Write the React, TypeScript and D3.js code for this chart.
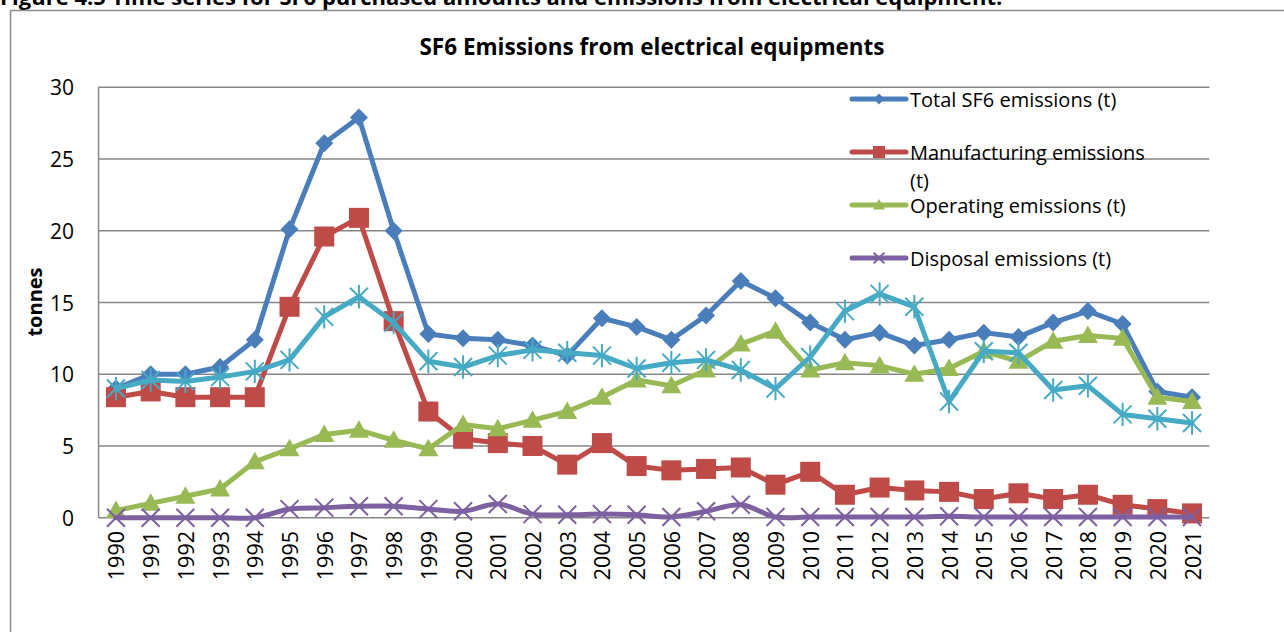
import * as d3 from "d3"

const years = [
  "1990", "1991", "1992", "1993", "1994", "1995", "1996", "1997", "1998", "1999",
  "2000", "2001", "2002", "2003", "2004", "2005", "2006", "2007", "2008", "2009",
  "2010", "2011", "2012", "2013", "2014", "2015", "2016", "2017", "2018", "2019",
  "2020", "2021",
]

const totalEmissions = [
  9.0, 10.0, 10.0, 10.5, 12.4, 20.1, 26.1, 27.9, 20.0, 12.8,
  12.5, 12.4, 12.0, 11.3, 13.9, 13.3, 12.4, 14.1, 16.5, 15.3,
  13.6, 12.4, 12.9, 12.0, 12.4, 12.9, 12.6, 13.6, 14.4, 13.5,
  8.8, 8.4,
]

const manufacturingEmissions = [
  8.4, 8.8, 8.4, 8.4, 8.4, 14.7, 19.6, 20.9, 13.7, 7.4,
  5.5, 5.2, 5.0, 3.7, 5.2, 3.6, 3.3, 3.4, 3.5, 2.3,
  3.2, 1.6, 2.1, 1.9, 1.8, 1.3, 1.7, 1.3, 1.6, 0.9,
  0.6, 0.3,
]

const operatingEmissions = [
  0.5, 1.0, 1.5, 2.0, 3.9, 4.8, 5.8, 6.1, 5.4, 4.8,
  6.5, 6.2, 6.8, 7.4, 8.4, 9.6, 9.2, 10.3, 12.1, 13.0,
  10.3, 10.8, 10.6, 10.0, 10.4, 11.6, 10.9, 12.3, 12.7, 12.5,
  8.4, 8.1,
]

const disposalEmissions = [
  0.0, 0.0, 0.0, 0.0, 0.0, 0.6, 0.7, 0.8, 0.8, 0.6,
  0.45, 0.95, 0.25, 0.2, 0.25, 0.2, 0.05, 0.45, 0.9, 0.05,
  0.05, 0.05, 0.05, 0.05, 0.1, 0.05, 0.05, 0.05, 0.05, 0.05,
  0.05, 0.05,
]

// unlabelled fifth series (not in the legend)
const otherSeries = [
  9.0, 9.6, 9.5, 9.8, 10.2, 11.0, 14.0, 15.4, 13.6, 10.9,
  10.5, 11.3, 11.7, 11.5, 11.3, 10.4, 10.8, 11.0, 10.3, 9.0,
  11.2, 14.4, 15.6, 14.7, 8.1, 11.6, 11.5, 8.9, 9.2, 7.2,
  6.9, 6.6,
]

const yTicks = [0, 5, 10, 15, 20, 25, 30]

type Marker = "diamond" | "square" | "triangle" | "cross" | "asterisk"

const series = [
  { name: "Total SF6 emissions (t)", values: totalEmissions, color: "#4a7ebb", marker: "diamond" as Marker, smooth: false },
  { name: "Manufacturing emissions (t)", values: manufacturingEmissions, color: "#be4b48", marker: "square" as Marker, smooth: false },
  { name: "Operating emissions (t)", values: operatingEmissions, color: "#98b954", marker: "triangle" as Marker, smooth: false },
  { name: "Disposal emissions (t)", values: disposalEmissions, color: "#7d60a0", marker: "cross" as Marker, smooth: true },
  { name: "", values: otherSeries, color: "#46aac5", marker: "asterisk" as Marker, smooth: false },
]

const FONT = "'Open Sans', 'Noto Sans', sans-serif"

const MarkerShape = ({ type, cx, cy, color, s }: { type: Marker; cx: number; cy: number; color: string; s: number }) => {
  if (type === "diamond") {
    const r = 9 * s
    return <path d={`M${cx},${cy - r}L${cx + r},${cy}L${cx},${cy + r}L${cx - r},${cy}Z`} fill={color} />
  }
  if (type === "square") {
    const r = 10 * s
    return <rect x={cx - r} y={cy - r} width={2 * r} height={2 * r} fill={color} />
  }
  if (type === "triangle") {
    const r = 10 * s
    return <path d={`M${cx},${cy - r}L${cx + r},${cy + r * 0.75}L${cx - r},${cy + r * 0.75}Z`} fill={color} />
  }
  if (type === "cross") {
    const r = 9 * s
    return (
      <path d={`M${cx - r},${cy - r}L${cx + r},${cy + r}M${cx - r},${cy + r}L${cx + r},${cy - r}`}
        stroke={color} strokeWidth={2} fill="none" />
    )
  }
  const r = 9 * s
  return (
    <path d={`M${cx - r},${cy - r}L${cx + r},${cy + r}M${cx - r},${cy + r}L${cx + r},${cy - r}M${cx},${cy - r * 1.3}L${cx},${cy + r * 1.3}`}
      stroke={color} strokeWidth={2} fill="none" />
  )
}

export default function App() {
  const width = 1284
  const height = 632

  const x = d3.scaleBand().domain(years).range([98.6, 1209.4])
  const y = d3.scaleLinear().domain([0, 30]).range([517.7, 87.3])
  const xc = (d: string) => (x(d) ?? 0) + x.bandwidth() / 2

  const straight = d3.line<number>().x((_, i) => xc(years[i])).y((v) => y(v))
  const smooth = d3.line<number>().x((_, i) => xc(years[i])).y((v) => y(v)).curve(d3.curveCatmullRom.alpha(0.5))

  const legendRows = [
    { s: series[0], y: 99, extra: null as string | null },
    { s: series[1], y: 152, extra: "(t)" },
    { s: series[2], y: 205, extra: null },
    { s: series[3], y: 258, extra: null },
  ]

  return (
    <svg width={width} height={height} style={{ position: "absolute", left: 0, top: 0, background: "#fff" }}>
      <text x={0} y={5} fontFamily={FONT} fontWeight="bold" fontSize={22} fill="#000">
        Figure 4.5 Time series for SF6 purchased amounts and emissions from electrical equipment.
      </text>
      <rect x={10.5} y={10.5} width={1400} height={700} fill="#fff" stroke="#8c8c8c" strokeWidth={1.5} />

      <text x={652} y={55} textAnchor="middle" fontFamily={FONT} fontWeight="bold" fontSize={22.5} fill="#000">
        SF6 Emissions from electrical equipments
      </text>

      {/* grid */}
      {yTicks.map((t) => (
        <line key={t} x1={98.6} x2={1209.4} y1={y(t)} y2={y(t)} stroke="#868686" strokeWidth={1.5} />
      ))}
      <line x1={98.6} x2={98.6} y1={y(30)} y2={y(0)} stroke="#868686" strokeWidth={1.5} />

      {yTicks.map((t) => (
        <text key={t} x={74} y={y(t)} textAnchor="end" dominantBaseline="central"
          fontFamily={FONT} fontSize={21} fill="#000">{t}</text>
      ))}

      <text transform="translate(34,302) rotate(-90)" textAnchor="middle" dominantBaseline="central"
        fontFamily={FONT} fontWeight="bold" fontSize={20} fill="#000">tonnes</text>

      {years.map((yr) => (
        <text key={yr} transform={`translate(${xc(yr)},531) rotate(-90)`} textAnchor="end" dominantBaseline="central"
          fontFamily={FONT} fontSize={21.5} fill="#000">{yr}</text>
      ))}

      {series.map((s, si) => (
        <g key={si}>
          <path d={(s.smooth ? smooth : straight)(s.values) ?? ""} fill="none" stroke={s.color} strokeWidth={5}
            strokeLinejoin="round" strokeLinecap="round" />
          {s.values.map((v, i) => (
            <MarkerShape key={i} type={s.marker} cx={xc(years[i])} cy={y(v)} color={s.color} s={1} />
          ))}
        </g>
      ))}

      {legendRows.map((r, i) => (
        <g key={i}>
          <line x1={852} x2={906} y1={r.y} y2={r.y} stroke={r.s.color} strokeWidth={5} strokeLinecap="round" />
          <MarkerShape type={r.s.marker} cx={879} cy={r.y} color={r.s.color} s={0.6} />
          <text x={910} y={r.y} dominantBaseline="central" fontFamily={FONT} fontSize={20} fill="#000">
            {r.extra ? "Manufacturing emissions" : r.s.name}
          </text>
          {r.extra && (
            <text x={910} y={r.y + 28} dominantBaseline="central" fontFamily={FONT} fontSize={20} fill="#000">
              {r.extra}
            </text>
          )}
        </g>
      ))}
    </svg>
  )
}
